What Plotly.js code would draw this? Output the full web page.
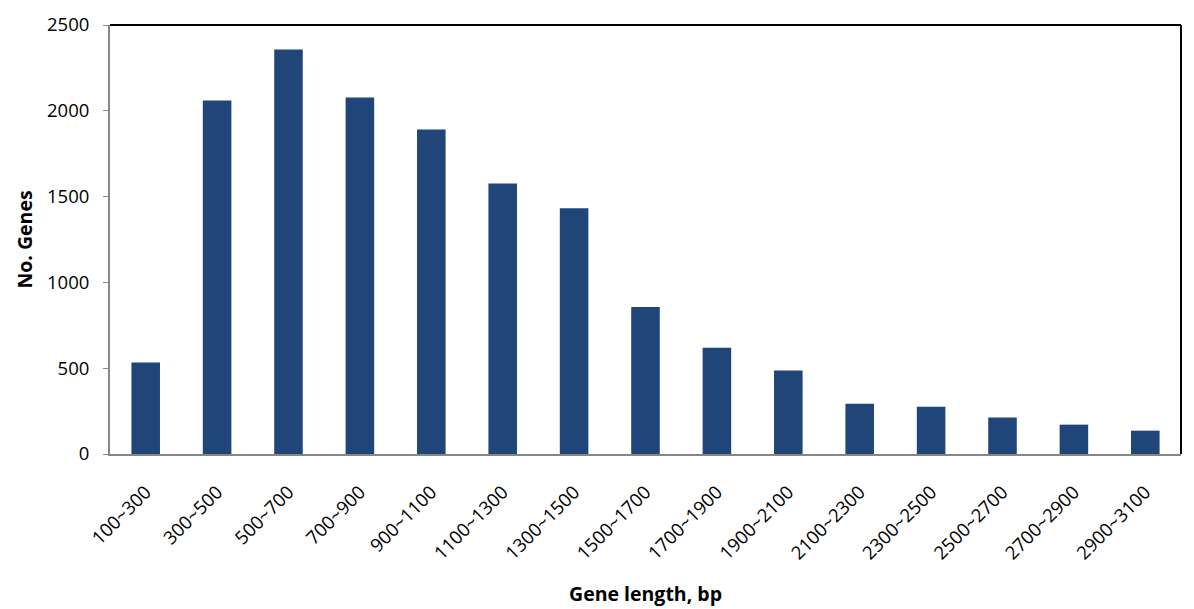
<!DOCTYPE html>
<html>
<head>
<meta charset="utf-8">
<script src="https://cdn.plot.ly/plotly-3.0.1.min.js"></script>
<style>html,body{margin:0;padding:0;background:#fff;}#chart{width:1194px;height:609px;}</style>
</head>
<body>
<div id="chart"></div>
<script>
const categories = ["100~300","300~500","500~700","700~900","900~1100","1100~1300","1300~1500","1500~1700","1700~1900","1900~2100","2100~2300","2300~2500","2500~2700","2700~2900","2900~3100"];
const geneCounts = [533, 2060, 2357, 2077, 1891, 1577, 1432, 857, 619, 487, 293, 276, 212, 171, 136];
const yTicks = [0, 500, 1000, 1500, 2000, 2500];

const font = "'Open Sans', 'Noto Sans', sans-serif";

const data = [{
  type: 'bar',
  x: categories,
  y: geneCounts,
  marker: {color: '#1F4579', line: {width: 0}},
  hoverinfo: 'x+y'
}];

const layout = {
  width: 1194, height: 609,
  margin: {l: 110, r: 13, t: 25, b: 155},
  paper_bgcolor: '#ffffff', plot_bgcolor: '#ffffff',
  bargap: 0.6,
  showlegend: false,
  font: {family: font, color: '#000', size: 19},
  xaxis: {
    type: 'category',
    tickangle: -45,
    showgrid: false,
    showline: true, linecolor: '#868686', linewidth: 2,
    ticks: '',
    ticklabelstandoff: 18,
    tickfont: {family: font, size: 18.5, color: '#000'},
    title: {text: 'Gene length, bp', font: {family: font, size: 19.5, color: '#000', weight: 'bold'}, standoff: 24},
    automargin: false
  },
  yaxis: {
    range: [0, 2500],
    tickvals: yTicks,
    ticktext: yTicks.map(String),
    showgrid: false, zeroline: false,
    showline: true, linecolor: '#868686', linewidth: 2,
    ticks: 'outside', ticklen: 5, tickcolor: '#868686', tickwidth: 1,
    tickfont: {family: font, size: 18.5, color: '#000'},
    ticklabelstandoff: 10,
    title: {text: 'No. Genes', font: {family: font, size: 19.5, color: '#000', weight: 'bold'}, standoff: 9},
    automargin: false
  },
  shapes: [
    {type: 'line', xref: 'paper', yref: 'paper', x0: 0, x1: 1, y0: 1, y1: 1, line: {color: '#000', width: 2}},
    {type: 'line', xref: 'paper', yref: 'paper', x0: 1, x1: 1, y0: 0, y1: 1, line: {color: '#000', width: 2}}
  ]
};

Plotly.newPlot('chart', data, layout, {displayModeBar: false, staticPlot: true});
</script>
</body>
</html>
